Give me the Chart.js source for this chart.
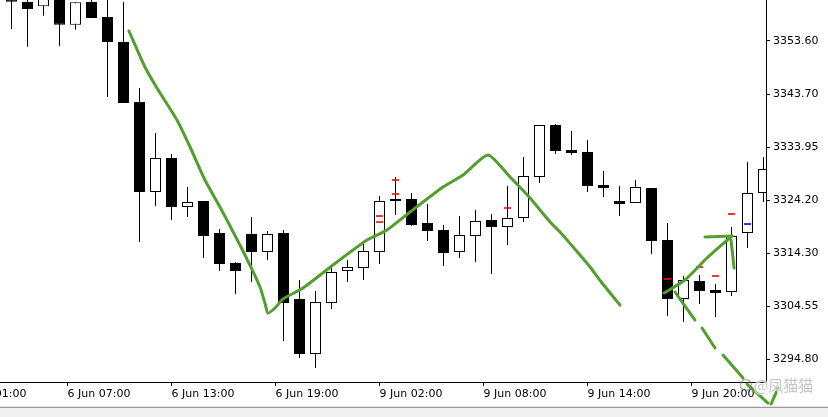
<!DOCTYPE html>
<html>
<head>
<meta charset="utf-8">
<script src="https://cdn.jsdelivr.net/npm/chart.js@4/dist/chart.umd.min.js"></script>
<style>
  html, body { margin: 0; padding: 0; background: #fff; }
  canvas { display: block; }
</style>
</head>
<body>
<canvas id="chart" width="828" height="417"></canvas>
<script>
// H1 candles, 6 Jun -> 9 Jun (bar index 0..47)
var opens = [3363.03, 3360.81, 3360.02, 3361.55, 3356.61, 3360.81, 3358.04, 3353.42, 3342.32, 3325.68,
  3331.97, 3322.90, 3324.01, 3318.10, 3312.55, 3317.91, 3314.58, 3318.10, 3305.89, 3295.72,
  3305.15, 3311.07, 3311.63, 3314.58, 3324.01, 3324.38, 3319.95, 3318.65, 3314.58, 3317.54,
  3320.50, 3319.21, 3320.87, 3328.45, 3338.07, 3333.44, 3333.07, 3326.97, 3324.01, 3323.64,
  3326.42, 3316.80, 3305.89, 3309.22, 3307.56, 3307.19, 3318.10, 3325.49];
var highs = [3363.40, 3362.10, 3362.50, 3362.30, 3360.76, 3361.55, 3362.00, 3360.81, 3344.91, 3336.59,
  3332.70, 3326.60, 3324.01, 3318.84, 3312.73, 3321.05, 3318.47, 3318.65, 3309.41, 3307.37,
  3312.00, 3313.10, 3316.62, 3324.94, 3328.45, 3325.49, 3323.46, 3319.58, 3321.24, 3322.35,
  3321.61, 3326.79, 3332.15, 3338.07, 3338.25, 3336.96, 3335.29, 3329.56, 3326.79, 3327.90,
  3326.42, 3319.95, 3310.15, 3310.33, 3308.67, 3319.21, 3331.23, 3332.15];
var lows = [3355.82, 3352.55, 3358.28, 3352.68, 3355.69, 3357.85, 3343.24, 3342.14, 3316.43, 3323.09,
  3320.50, 3321.05, 3313.47, 3311.07, 3306.82, 3309.04, 3313.10, 3298.13, 3294.98, 3293.14,
  3304.04, 3309.04, 3309.41, 3312.36, 3321.43, 3319.39, 3316.62, 3312.00, 3313.47, 3312.73,
  3310.52, 3315.88, 3320.13, 3327.34, 3332.70, 3332.52, 3325.68, 3324.75, 3321.24, 3323.64,
  3314.21, 3302.75, 3301.64, 3304.97, 3302.57, 3306.45, 3315.32, 3323.83];
var closes = [3360.87, 3359.52, 3361.74, 3356.61, 3360.76, 3357.85, 3353.42, 3342.14, 3325.68, 3331.97,
  3322.90, 3323.83, 3317.54, 3312.36, 3311.07, 3314.58, 3317.91, 3305.15, 3295.72, 3305.34,
  3310.89, 3311.81, 3314.77, 3324.01, 3324.38, 3319.58, 3318.47, 3314.40, 3317.73, 3320.32,
  3319.21, 3320.87, 3328.64, 3338.07, 3333.26, 3332.89, 3326.79, 3326.42, 3323.46, 3326.60,
  3316.62, 3305.89, 3309.41, 3307.37, 3307.00, 3317.54, 3325.49, 3329.93];

// axis labels
var xTickIdx = [-3, 3.5, 10, 16.5, 23, 29.5, 36, 42.5];
var xLabels = ["6 Jun 01:00", "6 Jun 07:00", "6 Jun 13:00", "6 Jun 19:00",
  "9 Jun 02:00", "9 Jun 08:00", "9 Jun 14:00", "9 Jun 20:00"];
var yTicks = [3353.60, 3343.70, 3333.95, 3324.20, 3314.30, 3304.55, 3294.80];
var yMin = 3290.55, yMax = 3361.18;
var xMin = -0.71875, xMax = 47.15625;

// small level marks [bar, price]
var redMarks = [[23, 3321.24], [23, 3320.13], [24, 3327.90], [24, 3325.31], [31, 3322.72],
  [41, 3309.59], [43, 3311.81], [44, 3310.15], [45, 3321.61]];
var blueMarks = [[46, 3319.76]];

// hand drawn green strokes [bar, price]
var greenStrokes = [
  [[7.34, 3355.45], [8.34, 3348.79], [9.09, 3344.91], [10.34, 3338.99], [11.16, 3334.00],
   [12.09, 3327.90], [13.03, 3322.90], [14.59, 3314.03], [15.53, 3308.11], [15.84, 3305.15],
   [16.03, 3303.30], [16.47, 3304.23], [16.97, 3305.89], [18.22, 3307.93], [20.34, 3312.73],
   [22.22, 3316.80], [23.47, 3318.65], [24.91, 3321.98], [26.97, 3326.60], [28.22, 3328.82],
   [29.78, 3332.52], [31.16, 3328.45], [32.41, 3324.57], [33.66, 3320.13], [34.28, 3318.28],
   [35.53, 3314.03], [36.16, 3311.81], [36.91, 3308.85], [38.03, 3304.78]],
  [[40.78, 3307.00], [42.09, 3309.41], [43.53, 3313.66], [45.03, 3317.54]],
  [[43.34, 3317.36], [45.03, 3317.54]],
  [[44.97, 3316.80], [45.16, 3311.62]]
];
var greenDashes = [
  [[41.47, 3307.19], [42.72, 3302.01]],
  [[43.16, 3300.53], [43.97, 3296.83]],
  [[44.47, 3295.54], [45.72, 3291.28]],
  [[45.97, 3290.17], [47.28, 3286.66]],
  [[47.47, 3286.48], [47.91, 3289.43], [48.66, 3294.80]]
];

var greenColor = "rgb(82,158,46)";

Chart.defaults.font.family = '"DejaVu Sans", sans-serif';
Chart.defaults.font.size = 11;
Chart.defaults.color = "#000";

var bodies = [], wicks = [], bodyFill = [];
for (var i = 0; i < opens.length; i++) {
  bodies.push({ x: i, y: [opens[i], closes[i]] });
  wicks.push({ x: i, y: [lows[i], highs[i]] });
  bodyFill.push(closes[i] < opens[i] ? "#000" : "#fff");
}

function toPoints(arr) {
  return arr.map(function (p) { return { x: p[0], y: p[1] }; });
}

var datasets = [
  {
    type: "bar",
    data: wicks,
    backgroundColor: "#000",
    borderWidth: 0,
    barThickness: 1,
    grouped: false,
    inflateAmount: 0,
    order: 3,
  },
  {
    type: "bar",
    data: bodies,
    backgroundColor: bodyFill,
    borderColor: "#000",
    borderWidth: 1,
    borderSkipped: false,
    barThickness: 11,
    grouped: false,
    inflateAmount: 0,
    order: 2,
  },
  {
    type: "scatter",
    data: toPoints(redMarks),
    pointStyle: "line",
    pointRadius: 3.5,
    borderColor: "#ff0000",
    borderWidth: 1.6,
    order: 1,
  },
  {
    type: "scatter",
    data: toPoints(blueMarks),
    pointStyle: "line",
    pointRadius: 3.5,
    borderColor: "#0000ff",
    borderWidth: 1.6,
    order: 1,
  },
];

greenStrokes.concat(greenDashes).forEach(function (s) {
  datasets.push({
    type: "line",
    data: toPoints(s),
    borderColor: greenColor,
    borderWidth: 3,
    borderCapStyle: "round",
    borderJoinStyle: "round",
    pointRadius: 0,
    tension: 0.2,
    clip: false,
    order: 0,
  });
});

// Bottom scroll strip + watermark
var chromePlugin = {
  id: "chrome",
  beforeDraw: function (chart) {
    var ctx = chart.ctx, b = chart.chartArea.bottom;
    ctx.save();
    ctx.fillStyle = "#fff";
    ctx.fillRect(0, 0, chart.width, chart.height);
    ctx.fillStyle = "#f0f0f0";
    ctx.fillRect(0, b + 24, chart.width, chart.height - b - 24);
    ctx.fillStyle = "#e4e4e4";
    ctx.fillRect(0, b + 24, chart.width, 1);
    ctx.fillStyle = "#9a9a9a";
    ctx.fillRect(0, b + 25, chart.width, 1);
    ctx.restore();
  },
  afterDraw: function (chart) {
    var ctx = chart.ctx, r = chart.chartArea.right, b = chart.chartArea.bottom;
    ctx.save();
    ctx.strokeStyle = "rgba(120,120,120,0.55)";
    ctx.lineWidth = 1.5;
    ctx.beginPath();
    ctx.arc(r - 20, b + 3, 5.5, 0, Math.PI * 2);
    ctx.stroke();
    ctx.font = '15px "Noto Sans CJK SC", sans-serif';
    ctx.textBaseline = "middle";
    ctx.lineWidth = 2;
    ctx.strokeStyle = "rgba(255,255,255,0.7)";
    ctx.fillStyle = "rgba(140,140,140,0.5)";
    ctx.strokeText("@凤猫猫", r - 12, b + 3);
    ctx.fillText("@凤猫猫", r - 12, b + 3);
    ctx.restore();
  },
};

new Chart(document.getElementById("chart"), {
  type: "bar",
  data: { datasets: datasets },
  plugins: [chromePlugin],
  options: {
    responsive: false,
    animation: false,
    devicePixelRatio: 1,
    layout: { padding: 0, autoPadding: false },
    plugins: {
      legend: { display: false },
      tooltip: { enabled: false },
    },
    scales: {
      x: {
        type: "linear",
        min: xMin,
        max: xMax,
        offset: false,
        grid: { display: true, drawOnChartArea: false, offset: false, tickLength: 4, color: "#000" },
        border: { display: true, color: "#000", width: 1 },
        ticks: {
          autoSkip: false,
          maxRotation: 0,
          align: "start",
          padding: 2,
          callback: function (v, idx) { return xLabels[idx]; },
        },
        afterBuildTicks: function (scale) {
          scale.ticks = xTickIdx.map(function (v) { return { value: v }; });
        },
        afterFit: function (scale) {
          scale.height = 35;
          scale.paddingLeft = 0;
          scale.paddingRight = 0;
        },
      },
      y: {
        position: "right",
        min: yMin,
        max: yMax,
        grid: { display: true, drawOnChartArea: false, tickLength: 4, color: "#000" },
        border: { display: true, color: "#000", width: 1 },
        ticks: {
          autoSkip: false,
          padding: 3,
          callback: function (v) { return v.toFixed(2); },
        },
        afterBuildTicks: function (scale) {
          scale.ticks = yTicks.map(function (v) { return { value: v }; });
        },
        afterFit: function (scale) {
          scale.width = 62;
          scale.paddingTop = 0;
          scale.paddingBottom = 0;
        },
      },
    },
  },
});
</script>
</body>
</html>
